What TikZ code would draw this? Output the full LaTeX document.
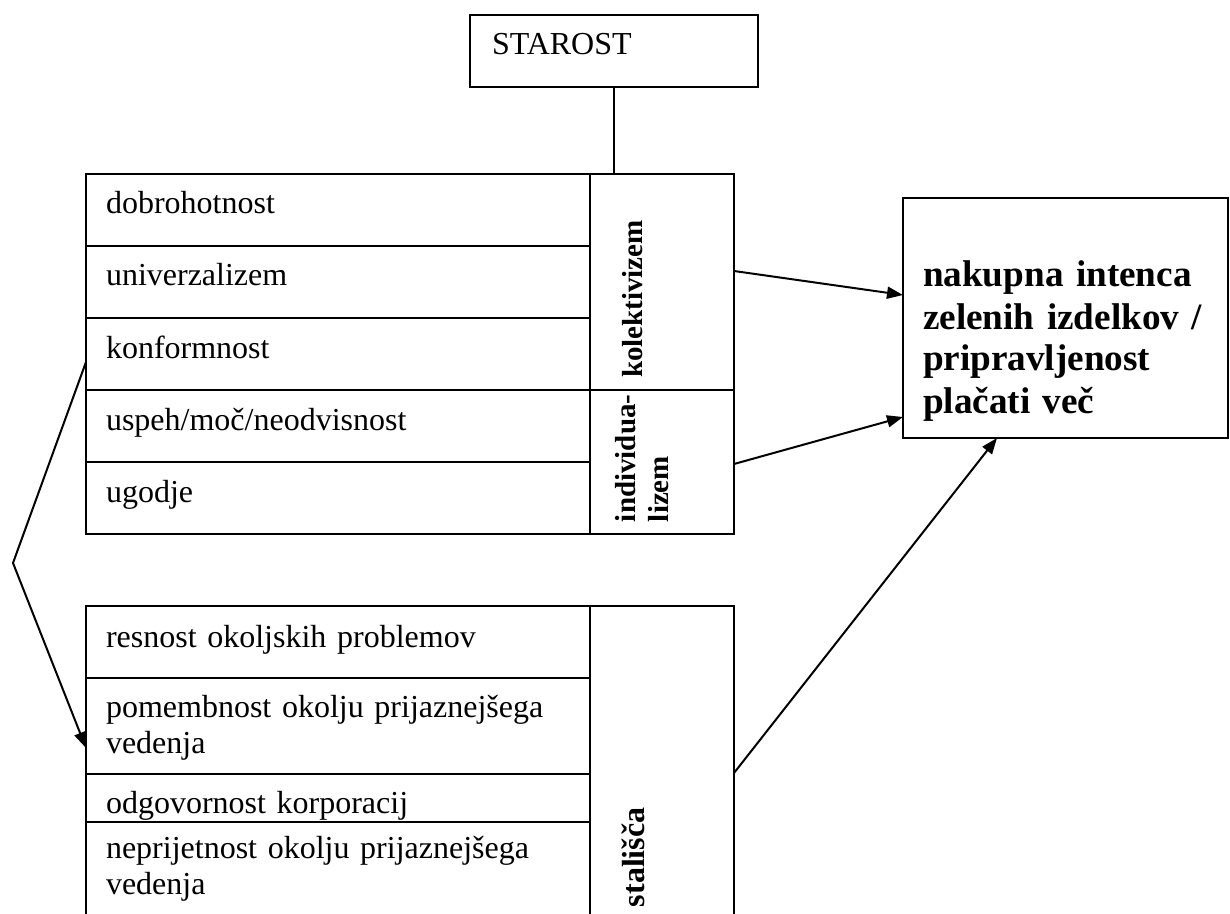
\documentclass[tikz,border=0pt]{standalone}
\usepackage{fontspec}
\setmainfont{Liberation Serif}
\usetikzlibrary{positioning,arrows.meta}

\begin{document}
\begin{tikzpicture}[
        x=0.5pt, y=-0.5pt,
        >={Triangle[length=8pt,width=6pt]},
        every node/.style={outer sep=0pt},
        line width=1pt,
        value/.style={
            % The shape
            rectangle,
            minimum width=252pt,
            text width=232pt,
            inner xsep=10pt,
            inner ysep=0pt,
            text height=20pt,
            text depth=16pt,
            % The border
            line width=1.1pt,
            draw = black,
            % Font
            font = \fontsize{16pt}{18pt}\selectfont,
            align = left
        },
        group/.style={
            % The shape
            rectangle,
            minimum width=72pt,
            inner sep=0pt,
            % The border
            line width=1.1pt,
            draw = black
        },
        groupLabel/.style={
            % The shape
            rotate=90,
            inner sep=0pt,
            anchor=north west,
            % Font
            font = \bfseries\fontsize{14.5pt}{16.5pt}\selectfont,
            align = left
        },
        outcome/.style={
            % The shape
            rectangle,
            minimum width=162.5pt,
            text width=142.5pt,
            inner xsep=10pt,
            inner ysep=0pt,
            text height=44.5pt,
            text depth=75.5pt,
            % The border
            line width=1.1pt,
            draw = black,
            % Font
            font = \bfseries\fontsize{18.6pt}{21pt}\selectfont,
            align = left
        },
    ]
        \clip (0,0) rectangle (1230,914);

        \node (starost) [value,minimum width=144pt,text width=122pt,inner xsep=11pt,anchor=north west] at (470,15) {STAROST};

        % values
        \node (dobrohotnost) [value,anchor=north west] at (86,174) {dobrohotnost};
        \node (univerzalizem) [value,below=0pt of dobrohotnost] {univerzalizem};
        \node (konformnost) [value,below=0pt of univerzalizem] {konformnost};
        \node (uspeh) [value,below=0pt of konformnost] {uspeh/moč/neodvisnost};
        \node (ugodje) [value,below=0pt of uspeh] {ugodje};

        \node (kolektivizem) [group,minimum height=108pt,anchor=north west] at (dobrohotnost.north east) {};
        \node (individualizem) [group,minimum height=72pt,below=0pt of kolektivizem] {};
        \node (kolektivizemLabel) [groupLabel] at ([xshift=16pt,yshift=6pt]kolektivizem.south west) {kolektivizem};
        \node (individualizemLabel) [groupLabel] at ([xshift=12.5pt,yshift=6pt]individualizem.south west) {individua-\\lizem};

        \draw (starost.south) -- (starost.south |- kolektivizem.north);

        % attitudes
        \node (resnost) [value,anchor=north west,text height=20.5pt,text depth=15.5pt] at (86,606) {resnost okoljskih problemov};
        \node (pomembnost) [value,below=0pt of resnost,text height=19.5pt,text depth=28.5pt] {pomembnost okolju prijaznejšega\\vedenja};
        \node (odgovornost) [value,below=0pt of pomembnost,text height=19.5pt,text depth=4.5pt] {odgovornost korporacij};
        \node (neprijetnost) [value,below=0pt of odgovornost,text height=18pt,text depth=30.5pt] {neprijetnost okolju prijaznejšega\\vedenja};

        \node (stalisca) [group,minimum height=156.5pt,anchor=north west] at (resnost.north east) {};
        \node (staliscaLabel) [groupLabel,font=\bfseries\fontsize{16pt}{18pt}\selectfont] at ([xshift=16pt,yshift=6pt]stalisca.south west) {stališča};

        % outcome
        \node (intenca) [outcome,anchor=north west] at (903,198) {nakupna intenca\\zelenih izdelkov /\\pripravljenost\\plačati več};

        \path ([yshift=5.5pt]kolektivizem.east) edge[->] ([yshift=11.5pt]intenca.west);
        \path ([yshift=-1pt]individualizem.east) edge[->] ([yshift=-49.5pt]intenca.west);
        \path ([yshift=-5.25pt]stalisca.east) edge[->] ([xshift=47pt]intenca.south west);

        \coordinate (bend) at (13,563);
        \draw[->] ([yshift=-4pt]konformnost.west) -- (bend) -- ([yshift=-11pt]pomembnost.west);

    \end{tikzpicture}
\end{document}
